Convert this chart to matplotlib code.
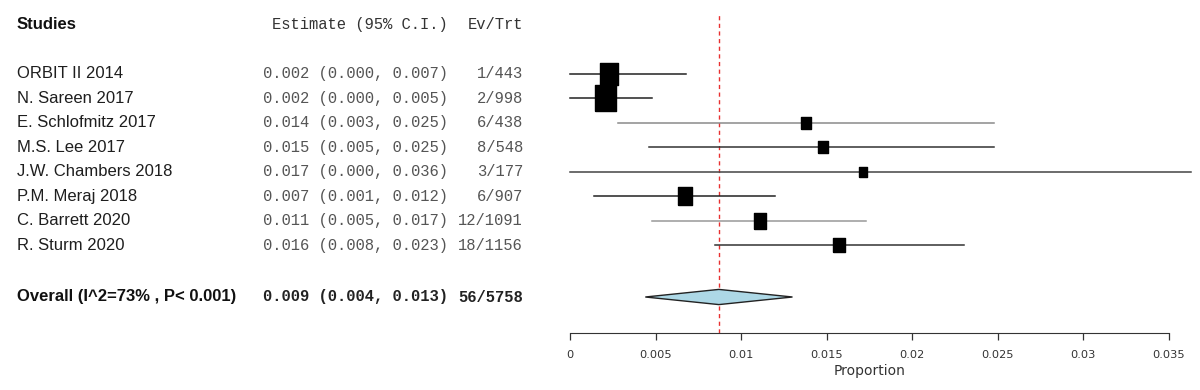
import matplotlib.pyplot as plt
from matplotlib.transforms import blended_transform_factory

studies = ["ORBIT II 2014", "N. Sareen 2017", "E. Schlofmitz 2017", "M.S. Lee 2017",
           "J.W. Chambers 2018", "P.M. Meraj 2018", "C. Barrett 2020", "R. Sturm 2020"]
est = [0.00225, 0.00205, 0.0138, 0.0148, 0.0171, 0.0067, 0.0111, 0.0157]
lo = [0.0, 0.0, 0.0028, 0.0046, 0.0, 0.0014, 0.0048, 0.0085]
hi = [0.0068, 0.0048, 0.0248, 0.0248, 0.0363, 0.0120, 0.0173, 0.0230]
est_txt = ["0.002 (0.000, 0.007)", "0.002 (0.000, 0.005)", "0.014 (0.003, 0.025)",
           "0.015 (0.005, 0.025)", "0.017 (0.000, 0.036)", "0.007 (0.001, 0.012)",
           "0.011 (0.005, 0.017)", "0.016 (0.008, 0.023)"]
ev_trt = ["1/443", "2/998", "6/438", "8/548", "3/177", "6/907", "12/1091", "18/1156"]
weights = [18, 21, 10, 10, 8, 14.5, 13, 11.6]
line_col = ["#222222", "#222222", "#8a8a8a", "#333333", "#444444", "#222222", "#999999", "#333333"]

overall_label = "Overall (I^2=73% , P< 0.001)"
overall_est, overall_lo, overall_hi = 0.0087, 0.0044, 0.0130
overall_txt = "0.009 (0.004, 0.013)"
overall_ev = "56/5758"
xticks = [0, 0.005, 0.01, 0.015, 0.02, 0.025, 0.03, 0.035]

W, H = 1200, 390
fig = plt.figure(figsize=(12, 3.9), dpi=100)
ax = fig.add_axes([570 / W, (H - 333) / H, 599 / W, (333 - 14) / H])
row0, row_h = 74, 24.5
ax.set_ylim((333 - row0) / row_h, -(row0 - 14) / row_h)
ax.set_xlim(0, 0.035)

# boxes a bit taller than wide, like the original
box = [(-1, -1.2), (1, -1.2), (1, 1.2), (-1, 1.2), (-1, -1.2)]
for i in range(len(studies)):
    ax.plot([lo[i], hi[i]], [i, i], color=line_col[i], lw=1.1, clip_on=False, zorder=2)
    ax.plot(est[i], i, marker=box, markersize=weights[i] * 1.2 * 0.72, color="black",
            clip_on=False, zorder=3)

yo = (297 - row0) / row_h
dh = 0.31
ax.fill([overall_lo, overall_est, overall_hi, overall_est, overall_lo],
        [yo, yo - dh, yo, yo + dh, yo], facecolor="#add8e6", edgecolor="#222222",
        lw=1.0, zorder=3)
ax.axvline(overall_est, color="#e83030", ls=(0, (3, 2.5)), lw=1.0, zorder=1)

for s in ["top", "right", "left"]:
    ax.spines[s].set_visible(False)
ax.spines["bottom"].set_bounds(0, 0.035)
ax.spines["bottom"].set_color("#333333")
ax.set_yticks([])
ax.set_xticks(xticks)
ax.set_xticklabels(["%g" % t for t in xticks])
ax.tick_params(axis="x", length=5, width=0.9, colors="#333333", labelsize=8.2, pad=7)
ax.set_xlabel("Proportion", fontsize=10, color="#333333", labelpad=3)

tr = blended_transform_factory(fig.transFigure, ax.transData)
name_font = "Liberation Sans"
mono = "Liberation Mono"
x_name, x_est, x_ev = 17 / W, 448 / W, 523 / W
hy = (25 - row0) / row_h
ax.text(x_name, hy, "Studies", transform=tr, fontsize=12, fontweight="bold",
        family=name_font, va="center", color="#111111")
ax.text(x_est, hy, "Estimate (95% C.I.)", transform=tr, fontsize=11.2,
        family=mono, va="center", ha="right", color="#333333")
ax.text(x_ev, hy, "Ev/Trt", transform=tr, fontsize=11.2,
        family=mono, va="center", ha="right", color="#333333")
for i in range(len(studies)):
    ax.text(x_name, i, studies[i], transform=tr, fontsize=12, family=name_font,
            va="center", color="#1e1e1e")
    ax.text(x_est, i, est_txt[i], transform=tr, fontsize=11.2, family=mono,
            va="center", ha="right", color="#555555")
    ax.text(x_ev, i, ev_trt[i], transform=tr, fontsize=11.2, family=mono,
            va="center", ha="right", color="#555555")
ax.text(x_name, yo, overall_label, transform=tr, fontsize=12, fontweight="bold",
        family=name_font, va="center", color="#111111")
ax.text(x_est, yo, overall_txt, transform=tr, fontsize=11.2, fontweight="bold",
        family=mono, va="center", ha="right", color="#222222")
ax.text(x_ev, yo, overall_ev, transform=tr, fontsize=11.2, fontweight="bold",
        family=mono, va="center", ha="right", color="#222222")

fig.savefig("out.png", dpi=100)
